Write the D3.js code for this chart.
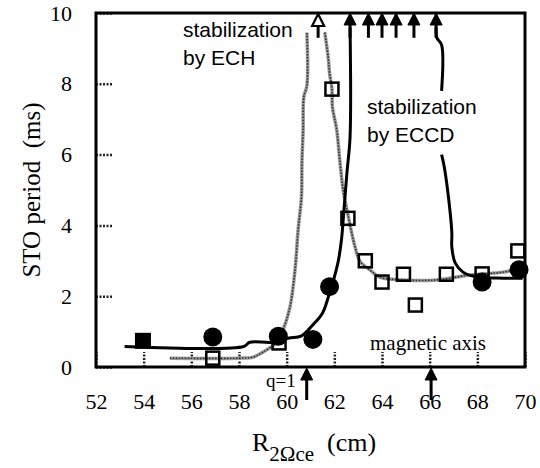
<!DOCTYPE html>
<html>
<head>
<meta charset="utf-8">
<script src="https://cdn.jsdelivr.net/npm/d3@7"></script>
<style>
  body { margin: 0; background: #fff; }
  svg { display: block; }
</style>
</head>
<body>
<div id="chart"></div>
<script>
// axis ticks
const xTicks = [52, 54, 56, 58, 60, 62, 64, 66, 68, 70];
const yTicks = [0, 2, 4, 6, 8, 10];

// measured points (R in cm, period in ms)
const eccdSquare = [[53.97, 0.74]];
const eccdCircles = [[56.9, 0.85], [59.65, 0.87], [61.1, 0.78], [61.8, 2.27], [68.2, 2.4], [69.75, 2.75]];
const echSquares = [[56.9, 0.25], [59.68, 0.68], [61.9, 7.85], [62.57, 4.2], [63.3, 3.0], [64.0, 2.4],
                    [64.9, 2.62], [65.4, 1.75], [66.7, 2.62], [68.2, 2.63], [69.7, 3.28]];

// hand-drawn trend lines
const eccdCurveLeft = [[53.2, 0.58], [58.2, 0.58], [58.45, 0.7], [59.4, 0.7], [60.1, 0.82], [60.6, 0.87],
                       [61.1, 1.19], [61.5, 1.52], [61.75, 1.98], [62.15, 2.94], [62.3, 3.6], [62.4, 4.4],
                       [62.53, 5.5], [62.66, 6.5], [62.66, 9.6]];
const eccdCurveRightTop = [[66.27, 9.6], [66.3, 9.3], [66.5, 9.1], [66.5, 7.8]];
const eccdCurveRight = [[66.5, 6.0], [66.6, 5.7], [66.77, 4.9], [66.93, 3.8], [66.93, 3.39], [67.07, 2.94],
                        [67.4, 2.68], [68.0, 2.54], [69.1, 2.51], [69.9, 2.51]];
const echCurveLeft = [[55.1, 0.25], [58.0, 0.25], [58.6, 0.28], [59.0, 0.42], [59.6, 0.7], [59.85, 1.05],
                      [60.14, 1.7], [60.35, 2.74], [60.48, 3.87], [60.62, 4.8], [60.64, 5.76], [60.69, 6.7],
                      [60.72, 7.63], [60.85, 7.95], [60.85, 9.45]];
const echCurveRight = [[61.6, 9.45], [61.74, 8.76], [61.8, 8.3], [61.9, 7.85], [61.92, 7.35], [62.1, 6.7],
                       [62.24, 5.76], [62.37, 5.0], [62.53, 4.43], [62.6, 4.2], [62.87, 3.39], [63.08, 2.98],
                       [63.5, 2.74], [63.9, 2.54], [64.9, 2.46], [66.3, 2.46], [67.7, 2.6], [69.1, 2.68],
                       [69.7, 2.77]];

// arrows: stabilized (period beyond 10 ms) and reference positions
const openArrowsTop = [61.32];
const filledArrowsTop = [62.66, 63.43, 64.0, 64.59, 65.34, 66.27];
const bottomArrows = [60.84, 66.06];

const margin = { top: 13, right: 15, bottom: 101, left: 96 },
      width = 540 - margin.left - margin.right,
      height = 468 - margin.top - margin.bottom;

const sans = "'Liberation Sans', Arial, sans-serif";
const serif = "'Liberation Serif', 'Times New Roman', serif";

const svg = d3.select("#chart").append("svg")
    .attr("width", 540)
    .attr("height", 468)
    .append("g")
    .attr("transform", `translate(${margin.left},${margin.top})`);

const x = d3.scaleLinear().domain([52, 70]).range([0, width]);
const y = d3.scaleLinear().domain([0, 10]).range([height, 0]);

// axes with inward dotted ticks
function styleAxis(g) {
    g.select(".domain").remove();
    g.attr("font-family", serif).attr("font-size", 22);
    g.selectAll(".tick line")
        .attr("stroke", "#222")
        .attr("stroke-width", 2.5)
        .attr("stroke-dasharray", "2,1.5");
    g.selectAll(".tick text").attr("fill", "#000");
}

svg.append("g")
    .attr("transform", `translate(0,${height})`)
    .call(d3.axisBottom(x).tickValues(xTicks).tickSize(-15).tickPadding(26))
    .call(styleAxis);

svg.append("g")
    .call(d3.axisLeft(y).tickValues(yTicks).tickSize(-16).tickPadding(24))
    .call(styleAxis);

const line = d3.line()
    .x(d => x(d[0]))
    .y(d => y(d[1]))
    .curve(d3.curveCatmullRom.alpha(0.5));

// ECH trend (grey dotted)
[echCurveLeft, echCurveRight].forEach(pts => {
    svg.append("path").datum(pts)
        .attr("d", line)
        .attr("fill", "none")
        .attr("stroke", "#9a9a9a")
        .attr("stroke-width", 3.5);
    svg.append("path").datum(pts)
        .attr("d", line)
        .attr("fill", "none")
        .attr("stroke", "#333")
        .attr("stroke-width", 1.6)
        .attr("stroke-dasharray", "1.5,1.5");
});

// ECCD trend (black)
[eccdCurveLeft, eccdCurveRightTop, eccdCurveRight].forEach(pts => {
    svg.append("path").datum(pts)
        .attr("d", line)
        .attr("fill", "none")
        .attr("stroke", "#000")
        .attr("stroke-width", 3);
});

// frame
svg.append("rect")
    .attr("width", width)
    .attr("height", height)
    .attr("fill", "none")
    .attr("stroke", "#000")
    .attr("stroke-width", 3);

// markers
svg.selectAll(".fsq").data(eccdSquare).enter().append("rect")
    .attr("x", d => x(d[0]) - 8)
    .attr("y", d => y(d[1]) - 8)
    .attr("width", 16)
    .attr("height", 16)
    .attr("fill", "#000");

svg.selectAll(".fc").data(eccdCircles).enter().append("circle")
    .attr("cx", d => x(d[0]))
    .attr("cy", d => y(d[1]))
    .attr("r", 9.5)
    .attr("fill", "#000");

svg.selectAll(".osq").data(echSquares).enter().append("rect")
    .attr("x", d => x(d[0]) - 6.5)
    .attr("y", d => y(d[1]) - 6.5)
    .attr("width", 13)
    .attr("height", 13)
    .attr("fill", "none")
    .attr("stroke", "#000")
    .attr("stroke-width", 2.5);

// arrows
function arrow(xv, y1, y2, filled) {
    const xp = x(xv);
    svg.append("line")
        .attr("x1", xp).attr("x2", xp)
        .attr("y1", y1 + 9).attr("y2", y2)
        .attr("stroke", "#000")
        .attr("stroke-width", 3);
    svg.append("path")
        .attr("d", `M${xp},${y1} L${xp - 6},${y1 + 12} L${xp + 6},${y1 + 12} Z`)
        .attr("fill", filled ? "#000" : "#fff")
        .attr("stroke", "#000")
        .attr("stroke-width", filled ? 1 : 2.2);
}
openArrowsTop.forEach(v => arrow(v, y(10) + 1, y(9.3), false));
filledArrowsTop.forEach(v => arrow(v, y(10), y(9.3), true));
bottomArrows.forEach(v => arrow(v, height + 1, height + 33, true));

// annotations
function note(tx, ty, lines, family, size) {
    const t = svg.append("text")
        .attr("font-family", family)
        .attr("font-size", size)
        .attr("fill", "#000");
    lines.forEach((s, i) => t.append("tspan").attr("x", tx).attr("y", ty + i * 28).text(s));
}
note(87, 24, ["stabilization", "by ECH"], sans, "21px");
note(271, 101, ["stabilization", "by ECCD"], sans, "21px");
note(274, 337, ["magnetic axis"], serif, "21px");
note(170, 374, ["q=1"], serif, "19px");

// axis titles
svg.append("text")
    .attr("transform", `translate(${40 - margin.left},${190 - margin.top}) rotate(-90)`)
    .attr("text-anchor", "middle")
    .attr("font-family", serif)
    .attr("font-size", "25px")
    .style("white-space", "pre")
    .text("STO period  (ms)");

const xt = svg.append("text")
    .attr("x", 252 - margin.left)
    .attr("y", 451 - margin.top)
    .attr("font-family", serif)
    .attr("font-size", "26px")
    .style("white-space", "pre");
xt.append("tspan").text("R");
xt.append("tspan").attr("dy", 10).attr("font-size", "21px").text("2Ωce");
xt.append("tspan").attr("dy", -10).text("  (cm)");
</script>
</body>
</html>
